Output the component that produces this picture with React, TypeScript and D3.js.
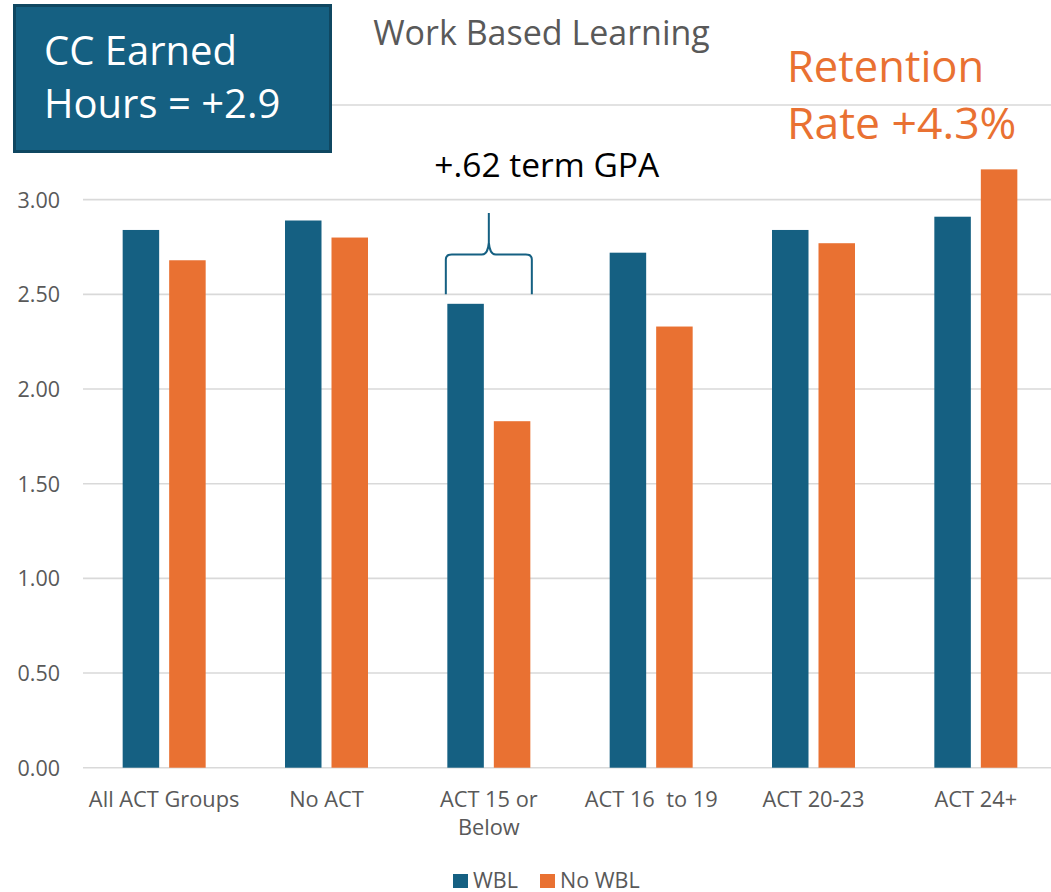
import React from "react";
import * as d3 from "d3";

const categories = ["All ACT Groups", "No ACT", "ACT 15 or|Below", "ACT 16  to 19", "ACT 20-23", "ACT 24+"];
const series = ["WBL", "No WBL"];
const wblValues = [2.84, 2.89, 2.45, 2.72, 2.84, 2.91];
const noWblValues = [2.68, 2.80, 1.83, 2.33, 2.77, 3.16];
const yTicks = [0, 0.5, 1, 1.5, 2, 2.5, 3, 3.5];
const yLabelTicks = [0, 0.5, 1, 1.5, 2, 2.5, 3];
const colors = ["#156082", "#E97132"];

const W = 1051;
const H = 892;
const FONT = "'Open Sans', 'Liberation Sans', Arial, sans-serif";
const GRAY = "#595959";

export default function App() {
  const x0 = d3.scaleBand<string>().domain(categories).range([83, 1057]).paddingInner(0).paddingOuter(0);
  const x1 = d3.scaleBand<string>().domain(series).range([0, x0.bandwidth()]).paddingInner(0.215).paddingOuter(0.853);
  const y = d3.scaleLinear().domain([0, 3.5]).range([767.7, 105]);
  const seriesValues = [wblValues, noWblValues];

  const bc = categories[2];
  const bl = (x0(bc) as number) + (x1("WBL") as number) - 1.5;
  const br = (x0(bc) as number) + (x1("No WBL") as number) + x1.bandwidth() + 1.5;
  const bm = (bl + br) / 2;
  const by = y(2.5);
  const bh = y(2.71);
  const bt = y(2.93);
  const brace = `M${bl},${by} L${bl},${bh + 5} Q${bl},${bh} ${bl + 6},${bh} L${bm - 7},${bh} Q${bm - 1},${bh} ${bm},${bh - 12} L${bm},${bt} M${bm},${bh - 12} Q${bm + 1},${bh} ${bm + 7},${bh} L${br - 6},${bh} Q${br},${bh} ${br},${bh + 5} L${br},${by}`;

  return (
    <svg width={W} height={H} style={{ position: "absolute", left: 0, top: 0, background: "#fff" }} fontFamily={FONT}>
      <rect x={0} y={0} width={W} height={H} fill="#fff" />
      {yTicks.map((t) => (
        <line key={t} x1={83} x2={1057} y1={y(t)} y2={y(t)} stroke="#D9D9D9" strokeWidth={1.6} />
      ))}
      {yLabelTicks.map((t) => (
        <text key={t} x={60} y={y(t) + 8} textAnchor="end" fontSize={21.5} fill={GRAY}>
          {t.toFixed(2)}
        </text>
      ))}
      {categories.map((c, i) => (
        <g key={c} transform={`translate(${x0(c)},0)`}>
          {series.map((s, j) => (
            <rect
              key={s}
              x={x1(s)}
              y={y(seriesValues[j][i])}
              width={x1.bandwidth()}
              height={y(0) - y(seriesValues[j][i])}
              fill={colors[j]}
            />
          ))}
          {c.split("|").map((line, k) => (
            <text
              key={k}
              x={x0.bandwidth() / 2}
              y={806.5 + k * 28.5}
              textAnchor="middle"
              fontSize={21.8}
              fill={GRAY}
              style={{ whiteSpace: "pre" }}
            >
              {line}
            </text>
          ))}
        </g>
      ))}
      <path d={brace} fill="none" stroke="#156082" strokeWidth={2} />
      <text x={546.7} y={176.7} textAnchor="middle" fontSize={33.5} fill="#000">
        +.62 term GPA
      </text>
      <text x={541.5} y={45} textAnchor="middle" fontSize={34} fill={GRAY}>
        Work Based Learning
      </text>
      <rect x={14.5} y={5.5} width={316} height={146} fill="#156082" stroke="#0F4761" strokeWidth={3} />
      <text x={44} y={65} fontSize={40} fill="#fff">CC Earned</text>
      <text x={44} y={118} fontSize={40} fill="#fff">Hours = +2.9</text>
      <text x={787} y={81.7} fontSize={43.5} fill="#E97132">Retention</text>
      <text x={787} y={139.3} fontSize={44.5} fill="#E97132">Rate +4.3%</text>
      {series.map((s, j) => {
        const lx = j === 0 ? 453 : 540;
        return (
          <g key={s}>
            <rect x={lx} y={874} width={15} height={14} fill={colors[j]} />
            <text x={lx + 20} y={887.5} fontSize={21.5} fill={GRAY}>{s}</text>
          </g>
        );
      })}
    </svg>
  );
}
